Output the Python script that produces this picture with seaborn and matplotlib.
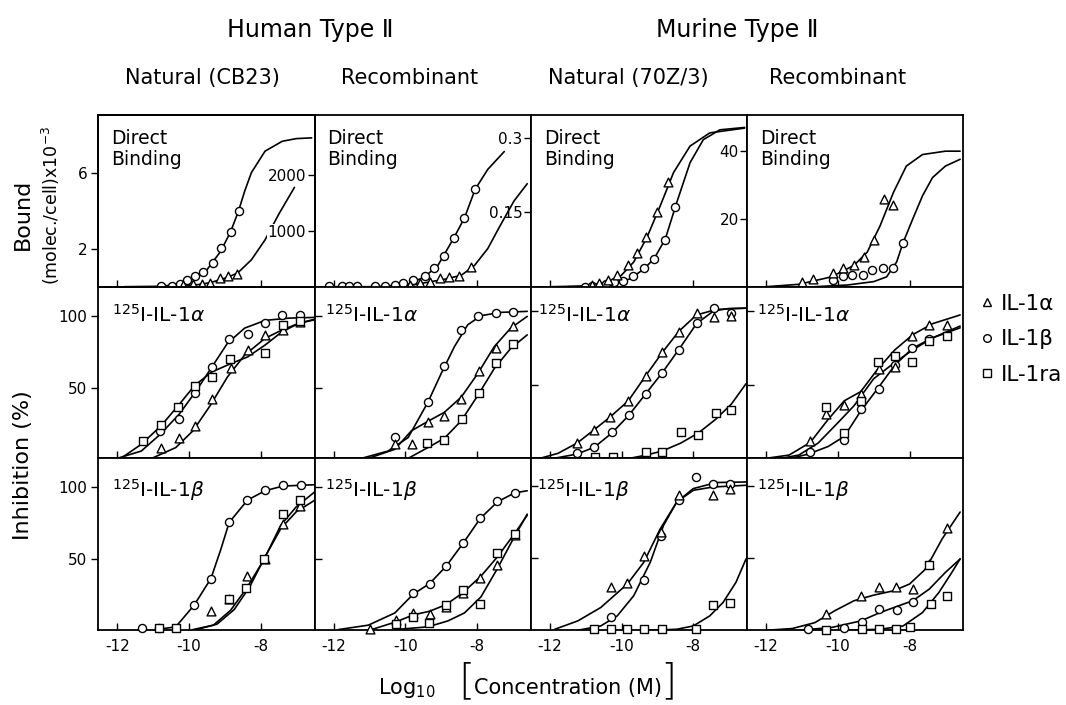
import matplotlib
matplotlib.use("Agg")
import matplotlib.pyplot as plt
import seaborn as sns
from matplotlib.lines import Line2D

# ---------------- data (log10 concentration, response) ----------------
# Row 1: direct binding  (series: a = IL-1alpha, b = IL-1beta, ra = IL-1ra)
p11_b_x = [-10.77, -10.47, -10.26, -10.06, -9.84, -9.60, -9.34, -9.11, -8.84, -8.62]
p11_b_y = [0.02, 0.05, 0.16, 0.33, 0.56, 0.78, 1.23, 2.03, 2.90, 3.99]
p11_a_x = [-10.16, -9.89, -9.65, -9.41, -9.15, -8.91, -8.67]
p11_a_y = [0.07, 0.12, 0.12, 0.21, 0.47, 0.56, 0.66]
f11_b_x = [-11.81, -10.85, -10.27, -9.89, -9.51, -9.12, -8.84, -8.62, -8.45, -8.26, -7.88, -7.40, -7.01, -6.58]
f11_b_y = [0.0, 0.02, 0.12, 0.42, 0.87, 1.86, 2.90, 3.99, 5.03, 6.02, 7.15, 7.67, 7.81, 7.85]
f11_a_x = [-10.37, -9.89, -9.41, -8.93, -8.64, -8.26, -7.88, -7.49, -7.06]
f11_a_y = [0.0, 0.07, 0.21, 0.49, 0.73, 1.42, 2.47, 3.85, 5.24]

p12_b_x = [-12.14, -11.77, -11.58, -11.35, -10.85, -10.57, -10.29, -10.06, -9.78, -9.46, -9.21, -8.93, -8.65, -8.35, -8.05]
p12_b_y = [0.002, 0.002, 0.002, 0.002, 0.002, 0.002, 0.003, 0.007, 0.013, 0.022, 0.037, 0.063, 0.098, 0.139, 0.198]
p12_a_x = [-9.88, -9.60, -9.32, -9.04, -8.77, -8.49, -8.17]
p12_a_y = [0.003, 0.007, 0.010, 0.017, 0.020, 0.022, 0.040]
f12_b_x = [-12.14, -10.75, -9.92, -9.46, -9.09, -8.65, -8.35, -8.05, -7.70, -7.24]
f12_b_y = [0.0, 0.0, 0.005, 0.02, 0.043, 0.098, 0.139, 0.197, 0.237, 0.273]
f12_a_x = [-10.75, -9.83, -8.91, -8.44, -8.07, -7.70, -7.38, -6.97, -6.60]
f12_a_y = [0.0, 0.003, 0.015, 0.023, 0.043, 0.077, 0.12, 0.173, 0.208]

p13_a_x = [-10.83, -10.62, -10.37, -10.12, -9.81, -9.56, -9.33, -9.01, -8.71]
p13_a_y = [0.5, 1.0, 1.95, 3.4, 6.3, 9.8, 14.8, 22.1, 30.9]
p13_b_x = [-11.03, -10.83, -10.44, -10.21, -9.95, -9.67, -9.38, -9.09, -8.80, -8.51]
p13_b_y = [0.0, 0.3, 0.7, 1.3, 1.7, 3.2, 5.6, 8.3, 13.7, 23.4]
f13_a_x = [-11.95, -11.03, -10.39, -10.02, -9.66, -9.29, -8.92, -8.55, -8.09, -7.54, -6.57]
f13_a_y = [0.0, 0.2, 1.3, 3.2, 7.3, 14.6, 23.9, 33.7, 41.5, 45.4, 46.8]
f13_b_x = [-11.49, -10.58, -10.12, -9.75, -9.38, -9.09, -8.78, -8.46, -8.09, -7.72, -7.26, -6.57]
f13_b_y = [0.0, 0.2, 1.0, 2.4, 5.2, 8.3, 14.1, 24.9, 36.6, 43.4, 46.3, 47.0]

p14_a_x = [-11.00, -10.70, -10.14, -9.85, -9.56, -9.27, -9.00, -8.70, -8.47]
p14_a_y = [1.5, 2.4, 3.9, 5.4, 6.3, 8.8, 13.7, 25.9, 24.1]
p14_b_x = [-10.14, -9.86, -9.61, -9.30, -9.05, -8.75, -8.47, -8.18]
p14_b_y = [2.0, 3.2, 3.4, 3.4, 4.9, 5.4, 5.4, 13.0]
f14_a_x = [-12.0, -11.09, -10.18, -9.55, -9.18, -8.82, -8.45, -8.09, -7.64, -7.0, -6.59]
f14_a_y = [0.0, 0.7, 2.9, 6.3, 10.2, 18.0, 27.8, 35.6, 39.0, 40.0, 40.0]
f14_b_x = [-10.64, -9.73, -9.0, -8.64, -8.36, -8.18, -7.91, -7.64, -7.36, -7.0, -6.59]
f14_b_y = [0.0, 0.5, 1.5, 2.9, 7.3, 13.0, 20.0, 26.8, 32.2, 35.6, 37.6]

# Row 2: inhibition of 125I-IL-1alpha (%)
p21_b_x = [-10.80, -10.29, -9.84, -9.36, -8.88, -8.36, -7.88, -7.40, -6.90]
p21_b_y = [20.2, 28.4, 46.7, 64.8, 84.0, 87.8, 95.3, 101.2, 100.7]
p21_a_x = [-10.78, -10.29, -9.84, -9.36, -8.84, -8.36, -7.88, -7.38, -6.90]
p21_a_y = [8.5, 15.0, 23.7, 42.5, 64.1, 76.5, 87.1, 90.6, 95.8]
p21_ra_x = [-11.28, -10.78, -10.30, -9.84, -9.36, -8.85, -7.88, -7.37, -6.90]
p21_ra_y = [13.1, 24.4, 36.6, 51.4, 57.7, 70.0, 74.2, 93.7, 96.7]
f21_b_x = [-12.0, -11.33, -10.80, -10.27, -9.79, -9.36, -8.93, -8.45, -7.88, -7.20, -6.48]
f21_b_y = [1.0, 6.1, 17.8, 31.9, 48.4, 64.8, 81.2, 91.8, 97.2, 98.8, 99.3]
f21_a_x = [-11.04, -10.37, -9.89, -9.41, -8.93, -8.45, -7.88, -7.40, -6.92, -6.48]
f21_a_y = [1.0, 8.5, 20.2, 37.8, 57.7, 73.0, 84.7, 90.6, 95.3, 98.1]
f21_ra_x = [-11.90, -11.33, -10.78, -10.30, -9.84, -9.36, -8.83, -8.36, -7.88, -7.40, -6.92, -6.48]
f21_ra_y = [1.0, 10.8, 23.7, 37.8, 51.9, 61.3, 67.1, 71.8, 80.0, 89.4, 95.3, 97.7]

p22_b_x = [-10.29, -9.37, -8.91, -8.44, -7.96, -7.47, -7.01]
p22_b_y = [16.2, 40.1, 65.7, 90.6, 100.5, 102.3, 102.8]
p22_a_x = [-10.29, -9.81, -9.37, -8.91, -8.44, -7.94, -7.47, -6.99]
p22_a_y = [10.8, 11.3, 26.1, 30.8, 42.5, 62.0, 77.7, 93.4]
p22_ra_x = [-9.39, -8.91, -8.43, -7.94, -7.46, -6.99]
p22_ra_y = [12.0, 13.8, 28.4, 46.5, 67.6, 80.5]
f22_b_x = [-11.22, -10.48, -9.92, -9.37, -9.00, -8.63, -8.26, -7.89, -7.34, -6.60]
f22_b_y = [1.0, 6.1, 15.5, 40.1, 60.1, 78.9, 94.1, 100.5, 102.8, 103.5]
f22_a_x = [-11.03, -10.29, -9.83, -9.37, -8.91, -8.44, -7.98, -7.52, -7.06, -6.60]
f22_a_y = [1.0, 7.3, 20.2, 26.8, 33.1, 43.7, 60.1, 78.9, 91.8, 100.0]
f22_ra_x = [-9.92, -9.37, -8.91, -8.44, -7.98, -7.52, -7.06, -6.60]
f22_ra_y = [1.0, 8.5, 15.0, 27.2, 44.8, 63.6, 77.7, 87.1]

p23_a_x = [-11.24, -10.76, -10.32, -9.81, -9.33, -8.86, -8.40, -7.91, -7.43, -6.96]
p23_a_y = [10.6, 19.7, 28.2, 39.2, 56.0, 72.0, 85.5, 98.6, 96.0, 96.5]
p23_b_x = [-11.24, -10.76, -10.27, -9.79, -9.33, -8.86, -8.39, -7.91, -7.43, -6.96]
p23_b_y = [3.7, 7.8, 17.9, 29.6, 43.8, 58.3, 73.6, 92.0, 101.6, 98.5]
p23_ra_x = [-10.73, -10.25, -9.31, -8.86, -8.35, -7.86, -7.38, -6.94]
p23_ra_y = [0.9, 0.9, 4.4, 4.4, 18.1, 16.3, 30.7, 32.8]
f23_a_x = [-12.32, -11.77, -11.24, -10.76, -10.32, -9.81, -9.33, -8.86, -8.40, -7.91, -7.36, -6.53]
f23_a_y = [0.0, 3.7, 10.6, 19.7, 28.2, 39.2, 56.0, 72.0, 86.2, 97.2, 100.9, 101.8]
f23_b_x = [-11.95, -11.24, -10.76, -10.27, -9.79, -9.33, -8.86, -8.39, -7.91, -7.43, -6.99, -6.53]
f23_b_y = [0.0, 3.2, 7.8, 17.4, 29.6, 43.8, 58.3, 74.3, 91.3, 100.0, 101.6, 101.8]
f23_ra_x = [-9.84, -9.31, -8.86, -8.35, -7.86, -7.38, -6.94, -6.53]
f23_ra_y = [0.0, 2.5, 5.3, 10.6, 17.4, 26.6, 36.9, 50.7]

p24_a_x = [-10.77, -10.32, -9.82, -9.36, -8.86, -8.41, -7.94, -7.45, -6.95]
p24_a_y = [11.7, 30.0, 36.5, 43.8, 61.0, 62.2, 82.8, 90.4, 90.4]
p24_b_x = [-10.77, -9.82, -9.34, -8.86, -8.41, -7.93, -7.45]
p24_b_y = [4.8, 12.8, 33.9, 47.2, 63.3, 74.8, 81.2]
p24_ra_x = [-10.32, -9.82, -9.36, -8.88, -8.41, -7.93, -7.45, -6.95]
p24_ra_y = [35.3, 17.4, 39.2, 65.1, 69.5, 65.6, 79.4, 82.8]
f24_a_x = [-12.09, -11.36, -10.77, -10.27, -9.82, -9.36, -8.91, -8.41, -7.91, -7.36, -6.59]
f24_a_y = [0.0, 2.5, 11.0, 26.6, 39.2, 45.4, 59.9, 73.6, 83.9, 91.3, 97.2]
f24_b_x = [-11.36, -10.82, -10.27, -9.82, -9.36, -8.86, -8.41, -7.91, -7.36, -6.59]
f24_b_y = [0.0, 3.2, 8.3, 15.1, 32.3, 48.4, 63.3, 74.8, 81.7, 89.7]
f24_ra_x = [-11.64, -11.09, -10.55, -10.0, -9.55, -9.0, -8.45, -7.91, -7.36, -6.59]
f24_ra_y = [0.0, 2.5, 10.6, 24.3, 35.8, 54.1, 64.4, 73.6, 81.7, 88.5]

# Row 3: inhibition of 125I-IL-1beta (%)
p31_b_x = [-11.31, -10.85, -9.86, -9.39, -8.88, -8.38, -7.88, -7.38, -6.88]
p31_b_y = [1.2, 1.2, 17.1, 35.9, 75.4, 91.1, 98.1, 101.9, 101.9]
p31_a_x = [-9.39, -8.88, -8.38, -7.88, -7.38, -6.90]
p31_a_y = [12.9, 21.4, 37.6, 50.0, 74.6, 86.9]
p31_ra_x = [-10.85, -10.37, -8.88, -8.40, -7.90, -7.38, -6.90]
p31_ra_y = [1.2, 1.2, 21.8, 29.6, 50.0, 81.2, 91.5]
f31_b_x = [-10.85, -10.37, -9.86, -9.39, -9.12, -8.88, -8.37, -7.88, -7.38, -6.53]
f31_b_y = [0.2, 1.9, 17.1, 35.9, 55.9, 75.4, 91.1, 97.7, 101.0, 101.9]
f31_a_x = [-9.79, -9.22, -8.74, -8.31, -7.88, -7.44, -7.01, -6.49]
f31_a_y = [0.0, 3.8, 14.1, 30.0, 51.2, 71.1, 82.9, 91.1]
f31_ra_x = [-9.89, -9.32, -8.84, -8.40, -7.92, -7.44, -7.01, -6.49]
f31_ra_y = [0.0, 3.1, 13.6, 28.9, 48.8, 73.5, 86.4, 97.0]

p32_b_x = [-9.78, -9.32, -8.86, -8.38, -7.91, -7.43, -6.95]
p32_b_y = [25.4, 31.9, 44.6, 61.0, 78.2, 90.4, 96.2]
p32_a_x = [-10.98, -10.26, -9.78, -9.32, -8.86, -8.40, -7.91, -7.43, -6.95]
p32_a_y = [0.7, 6.6, 11.7, 11.3, 16.0, 25.4, 36.4, 45.3, 66.4]
p32_ra_x = [-10.26, -9.78, -9.34, -8.86, -8.40, -7.91, -7.43, -6.95]
p32_ra_y = [4.2, 8.9, 4.9, 17.1, 27.7, 17.8, 54.0, 67.6]
f32_b_x = [-11.86, -11.03, -10.29, -9.78, -9.32, -8.86, -8.38, -7.91, -7.43, -6.95, -6.60]
f32_b_y = [0.0, 3.1, 11.7, 24.9, 32.4, 44.6, 61.0, 78.2, 89.9, 96.2, 97.7]
f32_a_x = [-10.94, -10.26, -9.78, -9.32, -8.86, -8.40, -7.89, -7.43, -6.95, -6.60]
f32_a_y = [0.0, 5.4, 10.3, 12.9, 17.6, 25.8, 37.6, 51.2, 67.6, 80.5]
f32_ra_x = [-10.29, -9.37, -8.81, -8.35, -7.89, -7.43, -6.97, -6.60]
f32_ra_y = [0.0, 1.9, 6.1, 11.7, 23.0, 43.0, 64.8, 81.2]

p33_a_x = [-10.30, -9.86, -9.38, -8.89, -8.41, -7.45, -6.99]
p33_a_y = [29.8, 32.6, 51.9, 68.1, 93.7, 93.7, 97.9]
p33_b_x = [-10.30, -9.38, -8.89, -8.41, -7.93, -7.45, -6.99]
p33_b_y = [9.3, 35.1, 65.8, 90.2, 106.5, 101.9, 101.9]
p33_ra_x = [-10.76, -10.30, -9.84, -9.38, -8.87, -7.93, -7.45, -6.99]
p33_ra_y = [0.8, 0.8, 0.8, 0.8, 0.8, 1.2, 17.4, 18.8]
f33_a_x = [-11.86, -11.22, -10.58, -9.84, -9.38, -8.92, -8.46, -8.00, -7.45, -6.53]
f33_a_y = [0.7, 6.5, 15.8, 32.1, 47.2, 70.5, 89.1, 97.2, 99.5, 100.7]
f33_b_x = [-11.22, -10.58, -10.12, -9.66, -9.20, -8.83, -8.46, -8.00, -7.36, -6.53]
f33_b_y = [0.0, 3.0, 10.0, 24.0, 47.2, 72.8, 89.1, 98.4, 102.6, 103.0]
f33_ra_x = [-9.20, -8.46, -8.00, -7.54, -7.17, -6.81, -6.53]
f33_ra_y = [0.0, 0.7, 3.0, 10.0, 19.3, 33.3, 49.5]

p34_a_x = [-10.32, -9.35, -8.85, -8.38, -7.91, -7.45, -6.95]
p34_a_y = [11.2, 23.5, 30.2, 29.8, 28.6, 46.0, 70.9]
p34_b_x = [-10.82, -9.82, -9.32, -8.85, -8.36, -7.91]
p34_b_y = [0.7, 1.9, 5.8, 15.1, 14.0, 19.8]
p34_ra_x = [-10.32, -9.32, -8.85, -8.38, -8.00, -7.45, -7.41, -6.95]
p34_ra_y = [0.5, 0.7, 0.7, 0.7, 2.6, 45.3, 18.1, 24.0]
f34_a_x = [-12.0, -11.27, -10.64, -10.09, -9.55, -9.0, -8.45, -8.0, -7.55, -7.09, -6.59]
f34_a_y = [0.0, 1.2, 5.3, 13.5, 20.5, 24.4, 27.4, 32.1, 42.6, 63.5, 82.1]
f34_b_x = [-11.09, -10.18, -9.36, -8.82, -8.36, -7.91, -7.45, -7.0, -6.59]
f34_b_y = [0.0, 1.9, 6.5, 12.3, 16.5, 20.5, 28.6, 40.2, 49.5]
f34_ra_x = [-9.73, -8.82, -8.18, -7.64, -7.18, -6.82, -6.59]
f34_ra_y = [0.0, 0.7, 3.0, 12.3, 26.3, 40.2, 49.5]

# ---------------- text / tick labels ----------------
GROUP_TITLES = ["Human Type Ⅱ", "Murine Type Ⅱ"]
COL_TITLES = ["Natural (CB23)", "Recombinant", "Natural (70Z/3)", "Recombinant"]
ROW_LABELS = ["Direct\nBinding", r"${}^{125}$I-IL-1$\alpha$", r"${}^{125}$I-IL-1$\beta$"]
SERIES_LABELS = {"a": "IL-1α", "b": "IL-1β", "ra": "IL-1ra"}
XTICKS = [-12, -10, -8]
XTICK_LABELS = ["-12", "-10", "-8"]
BIND_LEFT_TICKS = [2, 6]
BIND_LEFT_LABELS = ["2", "6"]
BIND_RIGHT = {0: ([1000, 2000], ["1000", "2000"]),
              1: ([0.15, 0.3], ["0.15", "0.3"]),
              2: ([20, 40], ["20", "40"])}
INHIB_TICKS = [50, 100]
INHIB_LABELS = ["50", "100"]

PANELS = {
    (0, 0): [("b", p11_b_x, p11_b_y, f11_b_x, f11_b_y), ("a", p11_a_x, p11_a_y, f11_a_x, f11_a_y)],
    (0, 1): [("b", p12_b_x, p12_b_y, f12_b_x, f12_b_y), ("a", p12_a_x, p12_a_y, f12_a_x, f12_a_y)],
    (0, 2): [("b", p13_b_x, p13_b_y, f13_b_x, f13_b_y), ("a", p13_a_x, p13_a_y, f13_a_x, f13_a_y)],
    (0, 3): [("b", p14_b_x, p14_b_y, f14_b_x, f14_b_y), ("a", p14_a_x, p14_a_y, f14_a_x, f14_a_y)],
    (1, 0): [("b", p21_b_x, p21_b_y, f21_b_x, f21_b_y), ("a", p21_a_x, p21_a_y, f21_a_x, f21_a_y),
             ("ra", p21_ra_x, p21_ra_y, f21_ra_x, f21_ra_y)],
    (1, 1): [("b", p22_b_x, p22_b_y, f22_b_x, f22_b_y), ("a", p22_a_x, p22_a_y, f22_a_x, f22_a_y),
             ("ra", p22_ra_x, p22_ra_y, f22_ra_x, f22_ra_y)],
    (1, 2): [("b", p23_b_x, p23_b_y, f23_b_x, f23_b_y), ("a", p23_a_x, p23_a_y, f23_a_x, f23_a_y),
             ("ra", p23_ra_x, p23_ra_y, f23_ra_x, f23_ra_y)],
    (1, 3): [("b", p24_b_x, p24_b_y, f24_b_x, f24_b_y), ("a", p24_a_x, p24_a_y, f24_a_x, f24_a_y),
             ("ra", p24_ra_x, p24_ra_y, f24_ra_x, f24_ra_y)],
    (2, 0): [("b", p31_b_x, p31_b_y, f31_b_x, f31_b_y), ("a", p31_a_x, p31_a_y, f31_a_x, f31_a_y),
             ("ra", p31_ra_x, p31_ra_y, f31_ra_x, f31_ra_y)],
    (2, 1): [("b", p32_b_x, p32_b_y, f32_b_x, f32_b_y), ("a", p32_a_x, p32_a_y, f32_a_x, f32_a_y),
             ("ra", p32_ra_x, p32_ra_y, f32_ra_x, f32_ra_y)],
    (2, 2): [("b", p33_b_x, p33_b_y, f33_b_x, f33_b_y), ("a", p33_a_x, p33_a_y, f33_a_x, f33_a_y),
             ("ra", p33_ra_x, p33_ra_y, f33_ra_x, f33_ra_y)],
    (2, 3): [("b", p34_b_x, p34_b_y, f34_b_x, f34_b_y), ("a", p34_a_x, p34_a_y, f34_a_x, f34_a_y),
             ("ra", p34_ra_x, p34_ra_y, f34_ra_x, f34_ra_y)],
}

# ---------------- styling / layout ----------------
sns.set_theme(style="ticks")
plt.rcParams["font.family"] = ["DejaVu Sans"]
plt.rcParams["mathtext.fontset"] = "dejavusans"
plt.rcParams["axes.unicode_minus"] = False
plt.rcParams["axes.edgecolor"] = "black"
plt.rcParams["axes.linewidth"] = 1.3
plt.rcParams["xtick.color"] = "black"
plt.rcParams["ytick.color"] = "black"
plt.rcParams["text.color"] = "black"

XLIM = (-12.53, -6.5)
YLIMS = [[(0, 9.06), (0, 0.347), (0, 50.7), (0, 50.7)],
         [(0.9, 120.7), (0.9, 120.7), (0.2, 116.3), (0.2, 116.3)],
         [(-0.5, 120.4), (-0.5, 120.4), (0, 119.3), (0, 119.3)]]
TWIN_YLIM = (0, 3070)
MARKERS = {"a": "^", "b": "o", "ra": "s"}
SIZES = {"a": 40, "b": 34, "ra": 30}
LABEL_X = [[0.06, 0.06, 0.06, 0.06], [0.063, 0.05, 0.035, 0.046], [0.063, 0.05, 0.03, 0.046]]
LABEL_Y = [0.92, 0.90, 0.89]
LABEL_BOX = dict(facecolor="white", edgecolor="none", pad=0.4)

fig, axes = plt.subplots(3, 4, figsize=(10.66, 7.05), dpi=100, sharex=True)
fig.patch.set_facecolor("white")
fig.subplots_adjust(left=0.0922, right=0.9037, top=0.837, bottom=0.106, wspace=0, hspace=0)

for (r, c), series in PANELS.items():
    ax = axes[r][c]
    for key, px, py, fx, fy in series:
        sns.lineplot(x=fx, y=fy, ax=ax, color="black", linewidth=1.2,
                     sort=False, estimator=None, zorder=2)
        sns.scatterplot(x=px, y=py, ax=ax, marker=MARKERS[key], s=SIZES[key],
                        color="white", edgecolor="black", linewidth=1.0,
                        zorder=3, clip_on=False, legend=False)
    ax.set_xlim(*XLIM)
    ax.set_ylim(*YLIMS[r][c])
    ax.set_xlabel("")
    ax.set_ylabel("")
    for sp in ax.spines.values():
        sp.set_linewidth(1.3)
    ax.tick_params(axis="x", direction="in", length=5, width=1.0, top=False,
                   bottom=True, labelsize=11, pad=6)
    ax.set_xticks(XTICKS, XTICK_LABELS)

    if r == 0:
        if c == 0:
            ax.tick_params(axis="y", direction="out", length=5, width=1.0, labelsize=11, pad=3)
            ax.set_yticks(BIND_LEFT_TICKS, BIND_LEFT_LABELS)
            tw = ax.twinx()
            tw.set_ylim(*TWIN_YLIM)
            tw.tick_params(axis="y", direction="in", length=5, width=1.0, labelsize=11, pad=-6)
            ticks, labs = BIND_RIGHT[0]
            tw.set_yticks(ticks, labs, ha="right", bbox=LABEL_BOX)
            for sp in tw.spines.values():
                sp.set_linewidth(1.3)
        elif c in (1, 2):
            ax.yaxis.tick_right()
            ax.tick_params(axis="y", direction="in", length=5, width=1.0, labelsize=11, pad=-6,
                           left=False, labelleft=False, right=True, labelright=True)
            ticks, labs = BIND_RIGHT[c]
            ax.set_yticks(ticks, labs, ha="right", bbox=LABEL_BOX)
        else:
            ax.set_yticks([])
    else:
        if c == 0:
            ax.tick_params(axis="y", direction="out", length=5, width=1.0, labelsize=11, pad=3)
            ax.set_yticks(INHIB_TICKS, INHIB_LABELS)
        else:
            ax.tick_params(axis="y", direction="in", length=5, width=1.0, labelleft=False)
            ax.set_yticks(INHIB_TICKS, INHIB_LABELS)

    fs = 13.5 if r == 0 else 14.5
    ax.text(LABEL_X[r][c], LABEL_Y[r], ROW_LABELS[r], transform=ax.transAxes,
            ha="left", va="top", fontsize=fs, linespacing=1.15, zorder=5)

W, H = 1066.0, 705.0
fig.text(310 / W, 1 - 30 / H, GROUP_TITLES[0], ha="center", va="center", fontsize=17)
fig.text(737 / W, 1 - 30 / H, GROUP_TITLES[1], ha="center", va="center", fontsize=17)
for cx, t in zip([202, 410, 628, 838], COL_TITLES):
    fig.text(cx / W, 1 - 78 / H, t, ha="center", va="center", fontsize=15)

fig.text(23 / W, 1 - 214 / H, "Bound", rotation=90, ha="center", va="center", fontsize=16)
fig.text(51 / W, 1 - 206 / H, "(molec./cell)x10$^{-3}$", rotation=90, ha="center",
         va="center", fontsize=12.5)
fig.text(23 / W, 1 - 465 / H, "Inhibition (%)", rotation=90, ha="center", va="center",
         fontsize=16)

fig.text(378 / W, 1 - 688 / H, "Log$_{10}$", ha="left", va="center", fontsize=15)
fig.text(458 / W, 1 - 682 / H, "[", ha="left", va="center", fontsize=30, fontweight="ultralight")
fig.text(474 / W, 1 - 688 / H, "Concentration (M)", ha="left", va="center", fontsize=15)
fig.text(660 / W, 1 - 682 / H, "]", ha="left", va="center", fontsize=30, fontweight="ultralight")

handles = [Line2D([], [], marker=MARKERS[k], linestyle="none", markersize=5.5,
                  markerfacecolor="white", markeredgecolor="black", markeredgewidth=1.0)
           for k in ("a", "b", "ra")]
fig.legend(handles, [SERIES_LABELS[k] for k in ("a", "b", "ra")], loc="upper left",
           bbox_to_anchor=(0.920, 0.583), frameon=False, fontsize=15.5, handlelength=0.6,
           handletextpad=0.35, labelspacing=0.72, borderpad=0, borderaxespad=0)

fig.savefig("out.png", dpi=100, facecolor="white")
